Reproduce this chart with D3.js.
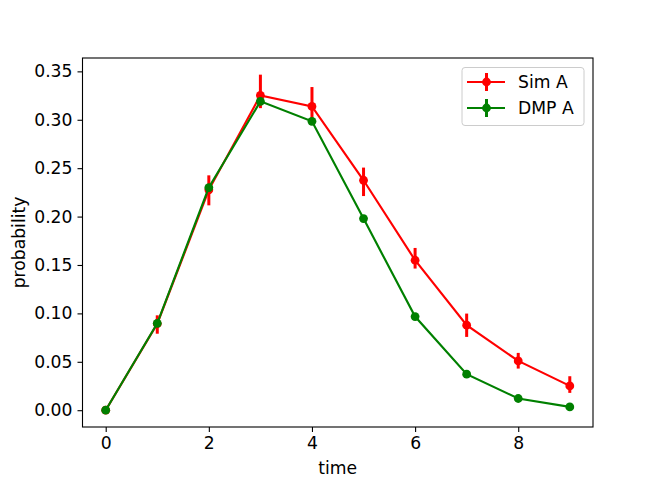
<!DOCTYPE html>
<html><head><meta charset="utf-8">
<script src="https://cdn.jsdelivr.net/npm/d3@7"></script>
<style>body{margin:0;background:#fff}svg{display:block}</style>
</head><body>
<script>
const times = [0,1,2,3,4,5,6,7,8,9];
const simA = [0, 0.0893, 0.2276, 0.3252, 0.3138, 0.2375, 0.1549, 0.0878, 0.0509, 0.0251];
const simLower = [0, 0.0790, 0.2116, 0.3120, 0.2980, 0.2212, 0.1463, 0.0757, 0.0430, 0.0179];
const simUpper = [0, 0.0980, 0.2426, 0.3466, 0.3338, 0.2506, 0.1676, 0.0998, 0.0592, 0.0351];
const dmpA = [0, 0.0897, 0.2300, 0.3190, 0.2984, 0.1979, 0.0967, 0.0372, 0.0121, 0.0034];
const dmpLower = dmpA.slice();
const dmpUpper = dmpA.slice();
const xTicks = [0,2,4,6,8];
const yTicks = [0,0.05,0.10,0.15,0.20,0.25,0.30,0.35];
const series = [
  {name:"Sim A", color:"red", values:simA, lo:simLower, hi:simUpper},
  {name:"DMP A", color:"green", values:dmpA, lo:dmpLower, hi:dmpUpper}
];

const W=659,H=480;
const L=82.5,R=593,T=58,B=427;
const svg=d3.select("body").append("svg").attr("width",W).attr("height",H);
const x=d3.scaleLinear().domain([-0.45,9.45]).range([L,R]);
const y=d3.scaleLinear().domain([-0.01735,0.3638]).range([B,T]);
const font="DejaVu Sans";
const fs=17.2;

const plot=svg.append("g");
series.forEach(s=>{
  const g=plot.append("g");
  g.append("path").datum(times)
    .attr("d",d3.line().x(d=>x(d)).y((d,i)=>y(s.values[i])))
    .attr("fill","none").attr("stroke",s.color).attr("stroke-width",2.15);
  g.selectAll("line.err").data(times).enter().append("line")
    .attr("x1",d=>x(d)).attr("x2",d=>x(d))
    .attr("y1",(d,i)=>y(s.lo[i])).attr("y2",(d,i)=>y(s.hi[i]))
    .attr("stroke",s.color).attr("stroke-width",3);
  g.selectAll("circle").data(times).enter().append("circle")
    .attr("cx",d=>x(d)).attr("cy",(d,i)=>y(s.values[i])).attr("r",4.4)
    .attr("fill",s.color);
});

// axes
const xAxis=d3.axisBottom(x).tickValues(xTicks).tickFormat(d3.format("d")).tickSize(5).tickPadding(5);
const yAxis=d3.axisLeft(y).tickValues(yTicks).tickFormat(d3.format(".2f")).tickSize(5).tickPadding(5);
const gx=svg.append("g").attr("transform",`translate(0,${B})`).call(xAxis);
const gy=svg.append("g").attr("transform",`translate(${L},0)`).call(yAxis);
[gx,gy].forEach(g=>{
  g.select(".domain").remove();
  g.selectAll(".tick line").attr("stroke","#000").attr("stroke-width",1.1);
  g.selectAll(".tick text").attr("font-family",font).attr("font-size",fs).attr("fill","#000");
});
svg.append("rect").attr("x",L).attr("y",T).attr("width",R-L).attr("height",B-T)
  .attr("fill","none").attr("stroke","#000").attr("stroke-width",1.1);

svg.append("text").attr("x",(L+R)/2).attr("y",473.5).attr("text-anchor","middle")
  .attr("font-family",font).attr("font-size",fs).text("time");
svg.append("text").attr("transform",`translate(24.5,${(T+B)/2}) rotate(-90)`).attr("text-anchor","middle")
  .attr("font-family",font).attr("font-size",fs).text("probability");

// legend
const lg=svg.append("g");
lg.append("rect").attr("x",462).attr("y",67.5).attr("width",122).attr("height",58).attr("rx",3)
  .attr("fill","#fff").attr("fill-opacity",0.8).attr("stroke","#ccc").attr("stroke-width",1);
series.forEach((s,i)=>{
  const cy=82+i*26;
  lg.append("line").attr("x1",467).attr("x2",505).attr("y1",cy).attr("y2",cy)
    .attr("stroke",s.color).attr("stroke-width",2.15);
  lg.append("line").attr("x1",486.5).attr("x2",486.5).attr("y1",cy-9).attr("y2",cy+9)
    .attr("stroke",s.color).attr("stroke-width",3);
  lg.append("circle").attr("cx",486.5).attr("cy",cy).attr("r",4.4).attr("fill",s.color);
  lg.append("text").attr("x",518).attr("y",cy).attr("dy","0.36em")
    .attr("font-family",font).attr("font-size",fs).text(s.name);
});
</script>
</body></html>
